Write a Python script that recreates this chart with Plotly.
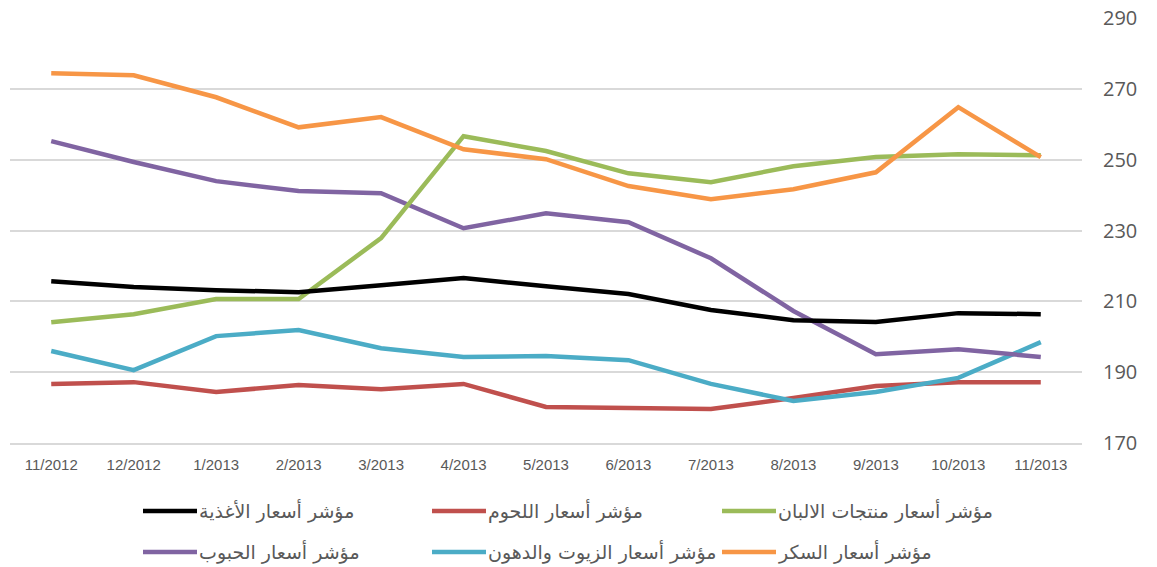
import plotly.graph_objects as go

months = ["11/2012", "12/2012", "1/2013", "2/2013", "3/2013", "4/2013", "5/2013",
          "6/2013", "7/2013", "8/2013", "9/2013", "10/2013", "11/2013"]

food = [215.7, 214.1, 213.2, 212.6, 214.6, 216.6, 214.3, 212.1, 207.6, 204.7, 204.2, 206.7, 206.4]
meat = [186.7, 187.2, 184.4, 186.4, 185.2, 186.7, 180.2, 179.9, 179.6, 182.7, 186.1, 187.2, 187.2]
dairy = [204.1, 206.4, 210.7, 210.7, 227.9, 256.7, 252.5, 246.2, 243.7, 248.2, 250.8, 251.6, 251.3]
cereals = [255.3, 249.4, 244.0, 241.2, 240.6, 230.7, 234.9, 232.4, 222.2, 207.3, 195.1, 196.5, 194.3]
oils = [196.0, 190.6, 200.2, 201.9, 196.8, 194.3, 194.6, 193.4, 186.7, 181.9, 184.4, 188.4, 198.5]
sugar = [274.5, 273.9, 267.7, 259.2, 262.1, 253.0, 250.2, 242.6, 238.9, 241.7, 246.5, 264.9, 250.8]

names = ["مؤشر أسعار الأغذية", "مؤشر أسعار اللحوم", "مؤشر أسعار منتجات الالبان",
         "مؤشر أسعار الحبوب", "مؤشر أسعار الزيوت والدهون", "مؤشر أسعار السكر"]
series = [food, meat, dairy, cereals, oils, sugar]
colors = ["#000000", "#C0504D", "#9BBB59", "#8064A2", "#4BACC6", "#F79646"]

W, H = 1157, 567
ml, mr, mt, mb = 10, 75, 18, 124
pw, ph = W - ml - mr, H - mt - mb

fig = go.Figure()
# draw order: back to front
order = [1, 4, 3, 2, 5, 0]
for i in order:
    fig.add_trace(go.Scatter(x=months, y=series[i], mode="lines", name=names[i],
                             line=dict(color=colors[i], width=4.5),
                             showlegend=False, hoverinfo="x+y+name"))

# manual legend (layout as in reference)
leg_x = [143, 432, 722]
leg_y = [511, 552]
for k in range(6):
    r, c = divmod(k, 3)
    x0 = leg_x[c]
    x1 = x0 + 54
    yy = leg_y[r]
    fig.add_shape(type="line", xref="paper", yref="paper",
                  x0=(x0 - ml) / pw, x1=(x1 - ml) / pw,
                  y0=(H - mb - yy) / ph, y1=(H - mb - yy) / ph,
                  line=dict(color=colors[k], width=4.5))
    fig.add_annotation(xref="paper", yref="paper", x=(x1 - ml) / pw,
                       y=(H - mb - yy) / ph, text=names[k], showarrow=False,
                       xanchor="left", yanchor="middle",
                       font=dict(family="DejaVu Sans", size=19, color="#595959"))

fig.update_layout(
    width=W, height=H,
    margin=dict(l=ml, r=mr, t=mt, b=mb, autoexpand=False),
    paper_bgcolor="white", plot_bgcolor="white",
    xaxis=dict(type="category", range=[-0.5, 12.5], showgrid=False,
               showline=True, linecolor="#D9D9D9", linewidth=1.5,
               ticks="", tickfont=dict(family="Liberation Sans", size=15, color="#595959"),
               ticklabelstandoff=7, fixedrange=True, automargin=False),
    yaxis=dict(side="right", range=[170, 290.1], dtick=20, tick0=170,
               showgrid=True, gridcolor="#D9D9D9", gridwidth=1.5,
               zeroline=False, showline=False, ticks="",
               tickfont=dict(family="Open Sans", size=20, color="#595959"),
               ticklabelstandoff=20, fixedrange=True, automargin=False),
)

fig.write_html("out.html")
